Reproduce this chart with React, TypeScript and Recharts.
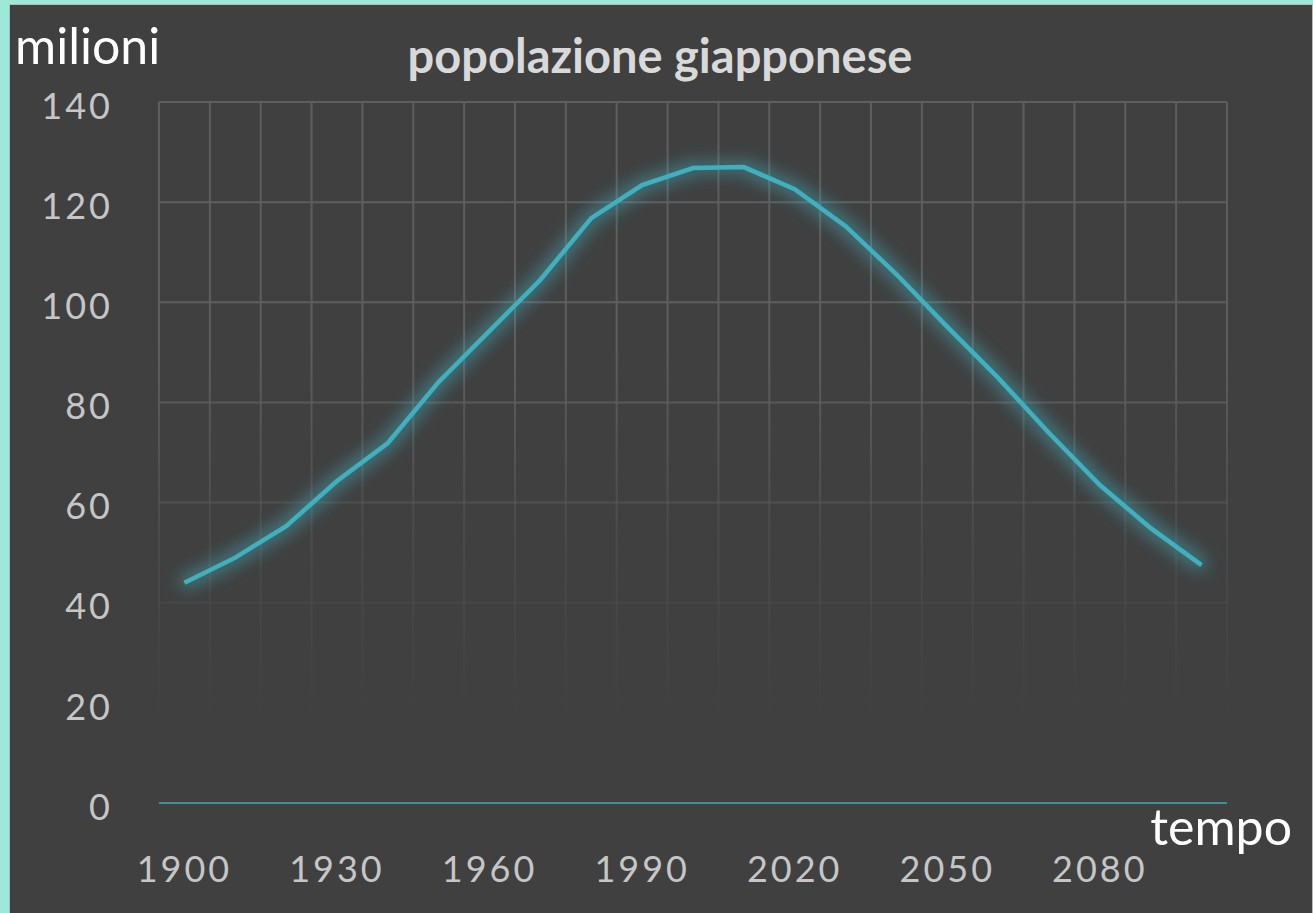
import React from 'react';
import { LineChart, Line, XAxis, YAxis, CartesianGrid } from 'recharts';

const years = [1900, 1910, 1920, 1930, 1940, 1950, 1960, 1970, 1980, 1990, 2000, 2010, 2020, 2030, 2040, 2050, 2060, 2070, 2080, 2090, 2100];
const popolazione = [44, 49, 55.3, 64.3, 71.9, 84.1, 94.3, 104.5, 116.8, 123.4, 126.8, 127, 122.6, 115.2, 105.6, 95.1, 84.9, 73.9, 63.5, 54.9, 47.5];
const yTicks = [0, 20, 40, 60, 80, 100, 120, 140];

const data = years.map((y, i) => ({ anno: String(y), valore: popolazione[i] }));

const font = 'Lato, "Open Sans", sans-serif';

export default function App() {
  return (
    <div style={{ position: 'absolute', left: 0, top: 0, width: 1313, height: 913, background: '#9de8d8', overflow: 'hidden' }}>
      <div style={{ position: 'absolute', left: 9, top: 4, width: 1302, height: 920, background: '#404040', border: '1px solid #b8b8b8' }} />
      <LineChart
        width={1313}
        height={913}
        data={data}
        margin={{ top: 102, right: 86, bottom: 50, left: 0 }}
        style={{ position: 'absolute', left: 0, top: 0 }}
      >
        <defs>
          <linearGradient id="gridFade" gradientUnits="userSpaceOnUse" x1="0" y1="102" x2="0" y2="803">
            <stop offset="0" stopColor="#5e5e5e" stopOpacity={1} />
            <stop offset="0.35" stopColor="#5e5e5e" stopOpacity={1} />
            <stop offset="0.62" stopColor="#5e5e5e" stopOpacity={0.35} />
            <stop offset="0.88" stopColor="#5e5e5e" stopOpacity={0} />
          </linearGradient>
          <filter id="glow" x="-10%" y="-20%" width="120%" height="140%">
            <feMorphology in="SourceGraphic" operator="dilate" radius="4" result="thick" />
            <feGaussianBlur in="thick" stdDeviation="8" result="blur" />
            <feComponentTransfer in="blur" result="soft">
              <feFuncA type="linear" slope="0.5" />
            </feComponentTransfer>
            <feMerge>
              <feMergeNode in="soft" />
              <feMergeNode in="SourceGraphic" />
            </feMerge>
          </filter>
        </defs>
        <CartesianGrid
          stroke="url(#gridFade)"
          strokeWidth={2}
          verticalCoordinatesGenerator={({ offset }: any) =>
            Array.from({ length: years.length + 1 }, (_, i) => offset.left + (i * offset.width) / years.length)
          }
        />
        <XAxis
          dataKey="anno"
          scale="band"
          interval={2}
          height={60}
          tickLine={false}
          tickSize={0}
          tickMargin={53}
          axisLine={{ stroke: '#3fa9b5', strokeWidth: 1.5 }}
          tick={{ fill: '#c6c6c6', fontSize: 36, fontFamily: font, letterSpacing: 3 }}
        />
        <YAxis
          domain={[0, 140]}
          ticks={yTicks}
          width={159}
          tickLine={false}
          tickSize={0}
          tickMargin={46}
          axisLine={false}
          tick={{ fill: '#c6c6c6', fontSize: 36, fontFamily: font, letterSpacing: 3, dy: 4 }}
        />
        <Line
          type="linear"
          dataKey="valore"
          stroke="#40b0bf"
          strokeWidth={4.5}
          dot={false}
          filter="url(#glow)"
          isAnimationActive={false}
        />
        <text x={660} y={73} textAnchor="middle" fill="#d9d9d9" fontSize={47} fontWeight="bold" fontFamily={font}>
          popolazione giapponese
        </text>
        <text x={15} y={64} fill="#ffffff" fontSize={50} fontFamily={font}>
          milioni
        </text>
        <text x={1292} y={845} textAnchor="end" fill="#ffffff" fontSize={50} fontFamily={font}>
          tempo
        </text>
      </LineChart>
    </div>
  );
}
